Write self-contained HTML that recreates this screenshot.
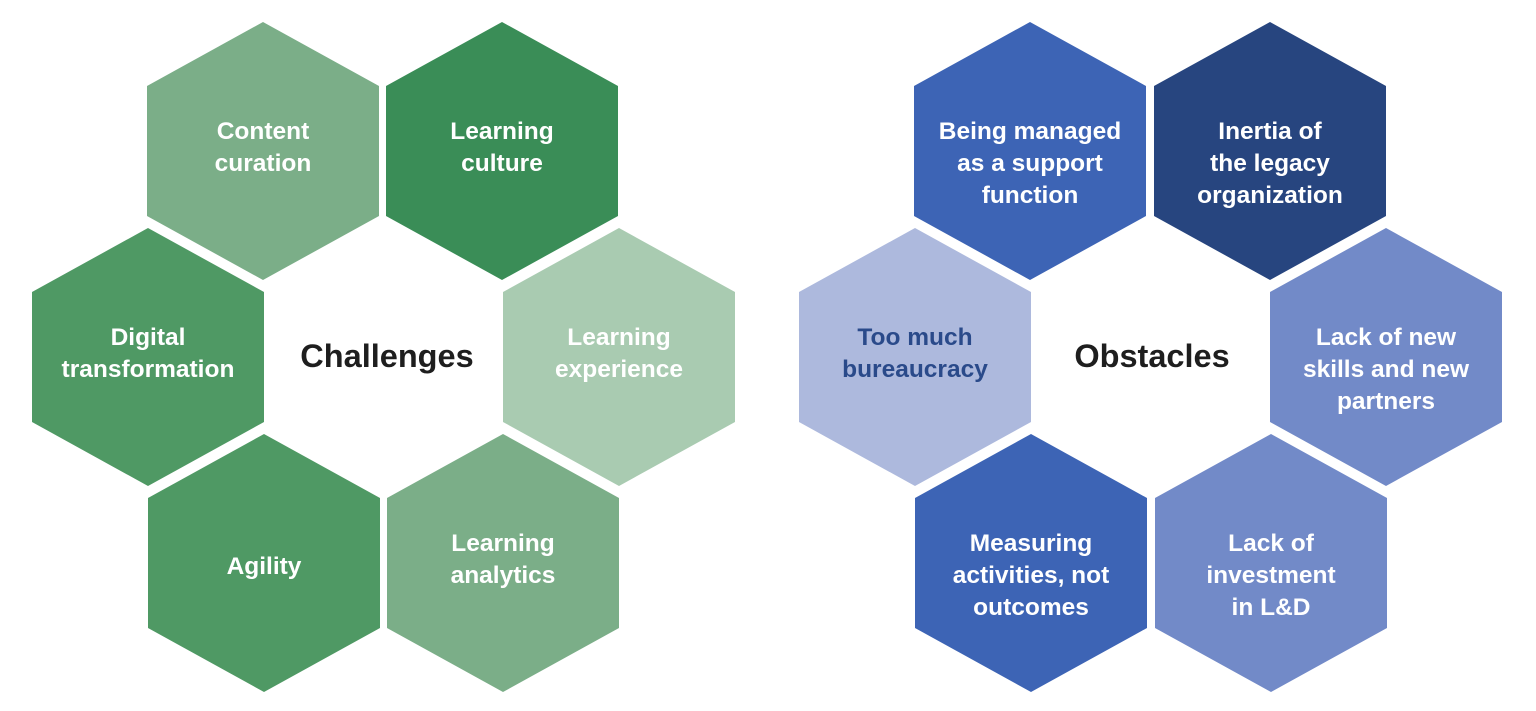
<!DOCTYPE html>
<html><head><meta charset="utf-8"><style>
html,body{margin:0;padding:0;background:#fff;}
svg{display:block;}
text{font-family:"Liberation Sans",sans-serif;font-weight:bold;text-anchor:middle;}
.w{fill:#fff;font-size:24.5px;}
.c{fill:#1e1e1e;font-size:32.5px;}
</style></head><body>
<svg width="1536" height="711" viewBox="0 0 1536 711" xmlns="http://www.w3.org/2000/svg">
<defs><polygon id="h" points="0,-129 116,-65 116,65 0,129 -116,65 -116,-65"/></defs>
<use href="#h" x="263" y="151" fill="#7bae88"/>
<use href="#h" x="502" y="151" fill="#3a8d57"/>
<use href="#h" x="148" y="357" fill="#4f9964"/>
<use href="#h" x="619" y="357" fill="#a9cbb1"/>
<use href="#h" x="264" y="563" fill="#4f9964"/>
<use href="#h" x="503" y="563" fill="#7bae88"/>
<text class="w" x="263" y="139">Content</text><text class="w" x="263" y="171">curation</text>
<text class="w" x="502" y="139">Learning</text><text class="w" x="502" y="171">culture</text>
<text class="w" x="148" y="345">Digital</text><text class="w" x="148" y="377">transformation</text>
<text class="w" x="619" y="345">Learning</text><text class="w" x="619" y="377">experience</text>
<text class="w" x="264" y="574">Agility</text>
<text class="w" x="503" y="551">Learning</text><text class="w" x="503" y="583">analytics</text>
<text class="c" x="387" y="367">Challenges</text>
<use href="#h" x="1030" y="151" fill="#3d64b5"/>
<use href="#h" x="1270" y="151" fill="#27457f"/>
<use href="#h" x="915" y="357" fill="#adb9dd"/>
<use href="#h" x="1386" y="357" fill="#728ac8"/>
<use href="#h" x="1031" y="563" fill="#3d64b5"/>
<use href="#h" x="1271" y="563" fill="#728ac8"/>
<text class="w" x="1030" y="139">Being managed</text><text class="w" x="1030" y="171">as a support</text><text class="w" x="1030" y="203">function</text>
<text class="w" x="1270" y="139">Inertia of</text><text class="w" x="1270" y="171">the legacy</text><text class="w" x="1270" y="203">organization</text>
<text class="w" x="915" y="345" style="fill:#2a4a8a">Too much</text><text class="w" x="915" y="377" style="fill:#2a4a8a">bureaucracy</text>
<text class="w" x="1386" y="345">Lack of new</text><text class="w" x="1386" y="377">skills and new</text><text class="w" x="1386" y="409">partners</text>
<text class="w" x="1031" y="551">Measuring</text><text class="w" x="1031" y="583">activities, not</text><text class="w" x="1031" y="615">outcomes</text>
<text class="w" x="1271" y="551">Lack of</text><text class="w" x="1271" y="583">investment</text><text class="w" x="1271" y="615">in L&amp;D</text>
<text class="c" x="1152" y="367">Obstacles</text>
</svg>
</body></html>
